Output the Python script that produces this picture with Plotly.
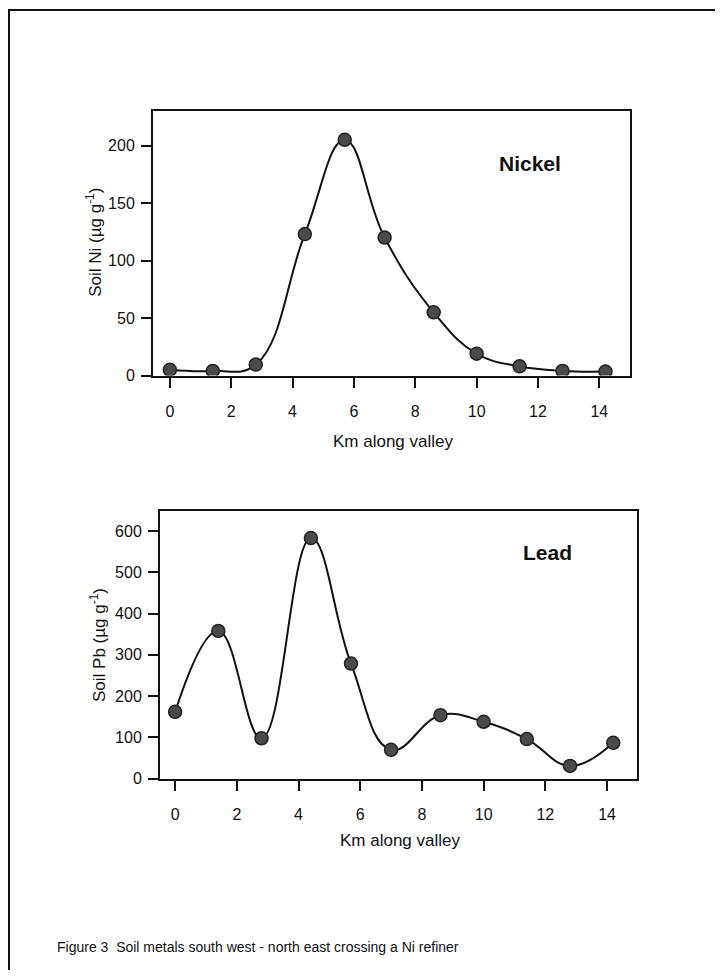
import plotly.graph_objects as go

km = [0, 1.4, 2.8, 4.4, 5.7, 7.0, 8.6, 10.0, 11.4, 12.8, 14.2]
nickel = [5, 4, 9.5, 123, 205, 120, 55, 19, 8, 4, 3.5]
lead = [162, 358, 98, 583, 279, 70, 154, 138, 96, 31, 87]
x_ticks = [0, 2, 4, 6, 8, 10, 12, 14]
ni_ticks = [0, 50, 100, 150, 200]
pb_ticks = [0, 100, 200, 300, 400, 500, 600]

# page is 723x978; the html body has an 8px margin
OFF = 8
W, H = 723 - OFF, 978 - 2 * OFF
FONT = "Liberation Sans, Arial, sans-serif"

def px(x):
    return (x - OFF) / W

def py(y):
    return 1 - (y - OFF) / H

fig = go.Figure()

marker = dict(size=13, color="#4a4a4a", line=dict(color="#222222", width=1.5))
line = dict(color="#111111", width=2, shape="spline", smoothing=1.2)

fig.add_trace(go.Scatter(x=km, y=nickel, mode="lines+markers", line=line,
                         marker=marker, xaxis="x", yaxis="y", showlegend=False))
fig.add_trace(go.Scatter(x=km, y=lead, mode="lines+markers", line=line,
                         marker=marker, xaxis="x2", yaxis="y2", showlegend=False))

axis_common = dict(showline=True, linecolor="#111111", linewidth=2, mirror=True,
                   ticks="outside", ticklen=10, tickwidth=1.5, tickcolor="#111111",
                   showgrid=False, zeroline=False,
                   tickfont=dict(family=FONT, size=16, color="#111111"))

fig.update_layout(
    width=W, height=H,
    margin=dict(l=0, r=0, t=0, b=0),
    paper_bgcolor="white", plot_bgcolor="white",
    xaxis=dict(domain=[px(153), px(630)], range=[-0.55, 15.0], tickvals=x_ticks,
               anchor="y", ticklabelstandoff=10, **axis_common),
    yaxis=dict(domain=[py(379), py(112)], range=[0, 230], tickvals=ni_ticks,
               anchor="x", ticklabelstandoff=3, **axis_common),
    xaxis2=dict(domain=[px(160), px(637)], range=[-0.49, 14.97], tickvals=x_ticks,
                anchor="y2", ticklabelstandoff=10, **axis_common),
    yaxis2=dict(domain=[py(786), py(516)], range=[0, 648], tickvals=pb_ticks,
                anchor="x2", ticklabelstandoff=3, **axis_common),
)

ann = []
def add_text(text, x, y, size, bold=False, angle=0, xanchor="center"):
    ann.append(dict(text=("<b>%s</b>" % text) if bold else text,
                    x=px(x), y=py(y), xref="paper", yref="paper",
                    xanchor=xanchor, yanchor="middle", showarrow=False,
                    textangle=angle,
                    font=dict(family=FONT, size=size, color="#111111")))

add_text("Km along valley", 394, 446, 17)
add_text("Km along valley", 400, 848, 17)
add_text("Soil Ni (µg g<sup>-1</sup>)", 94, 245, 17, angle=-90)
add_text("Soil Pb (µg g<sup>-1</sup>)", 98, 651, 17, angle=-90)
add_text("Nickel", 530, 165, 21, bold=True)
add_text("Lead", 547, 558, 21, bold=True)
add_text("Figure 3  Soil metals south west - north east crossing a Ni refiner",
         55, 956, 14, xanchor="left")
fig.update_layout(annotations=ann)

fig.add_shape(type="rect", xref="paper", yref="paper",
              x0=px(9), x1=px(717), y0=py(1000), y1=py(10),
              line=dict(color="#111111", width=2), fillcolor="rgba(0,0,0,0)")

fig.write_html("out.html")
